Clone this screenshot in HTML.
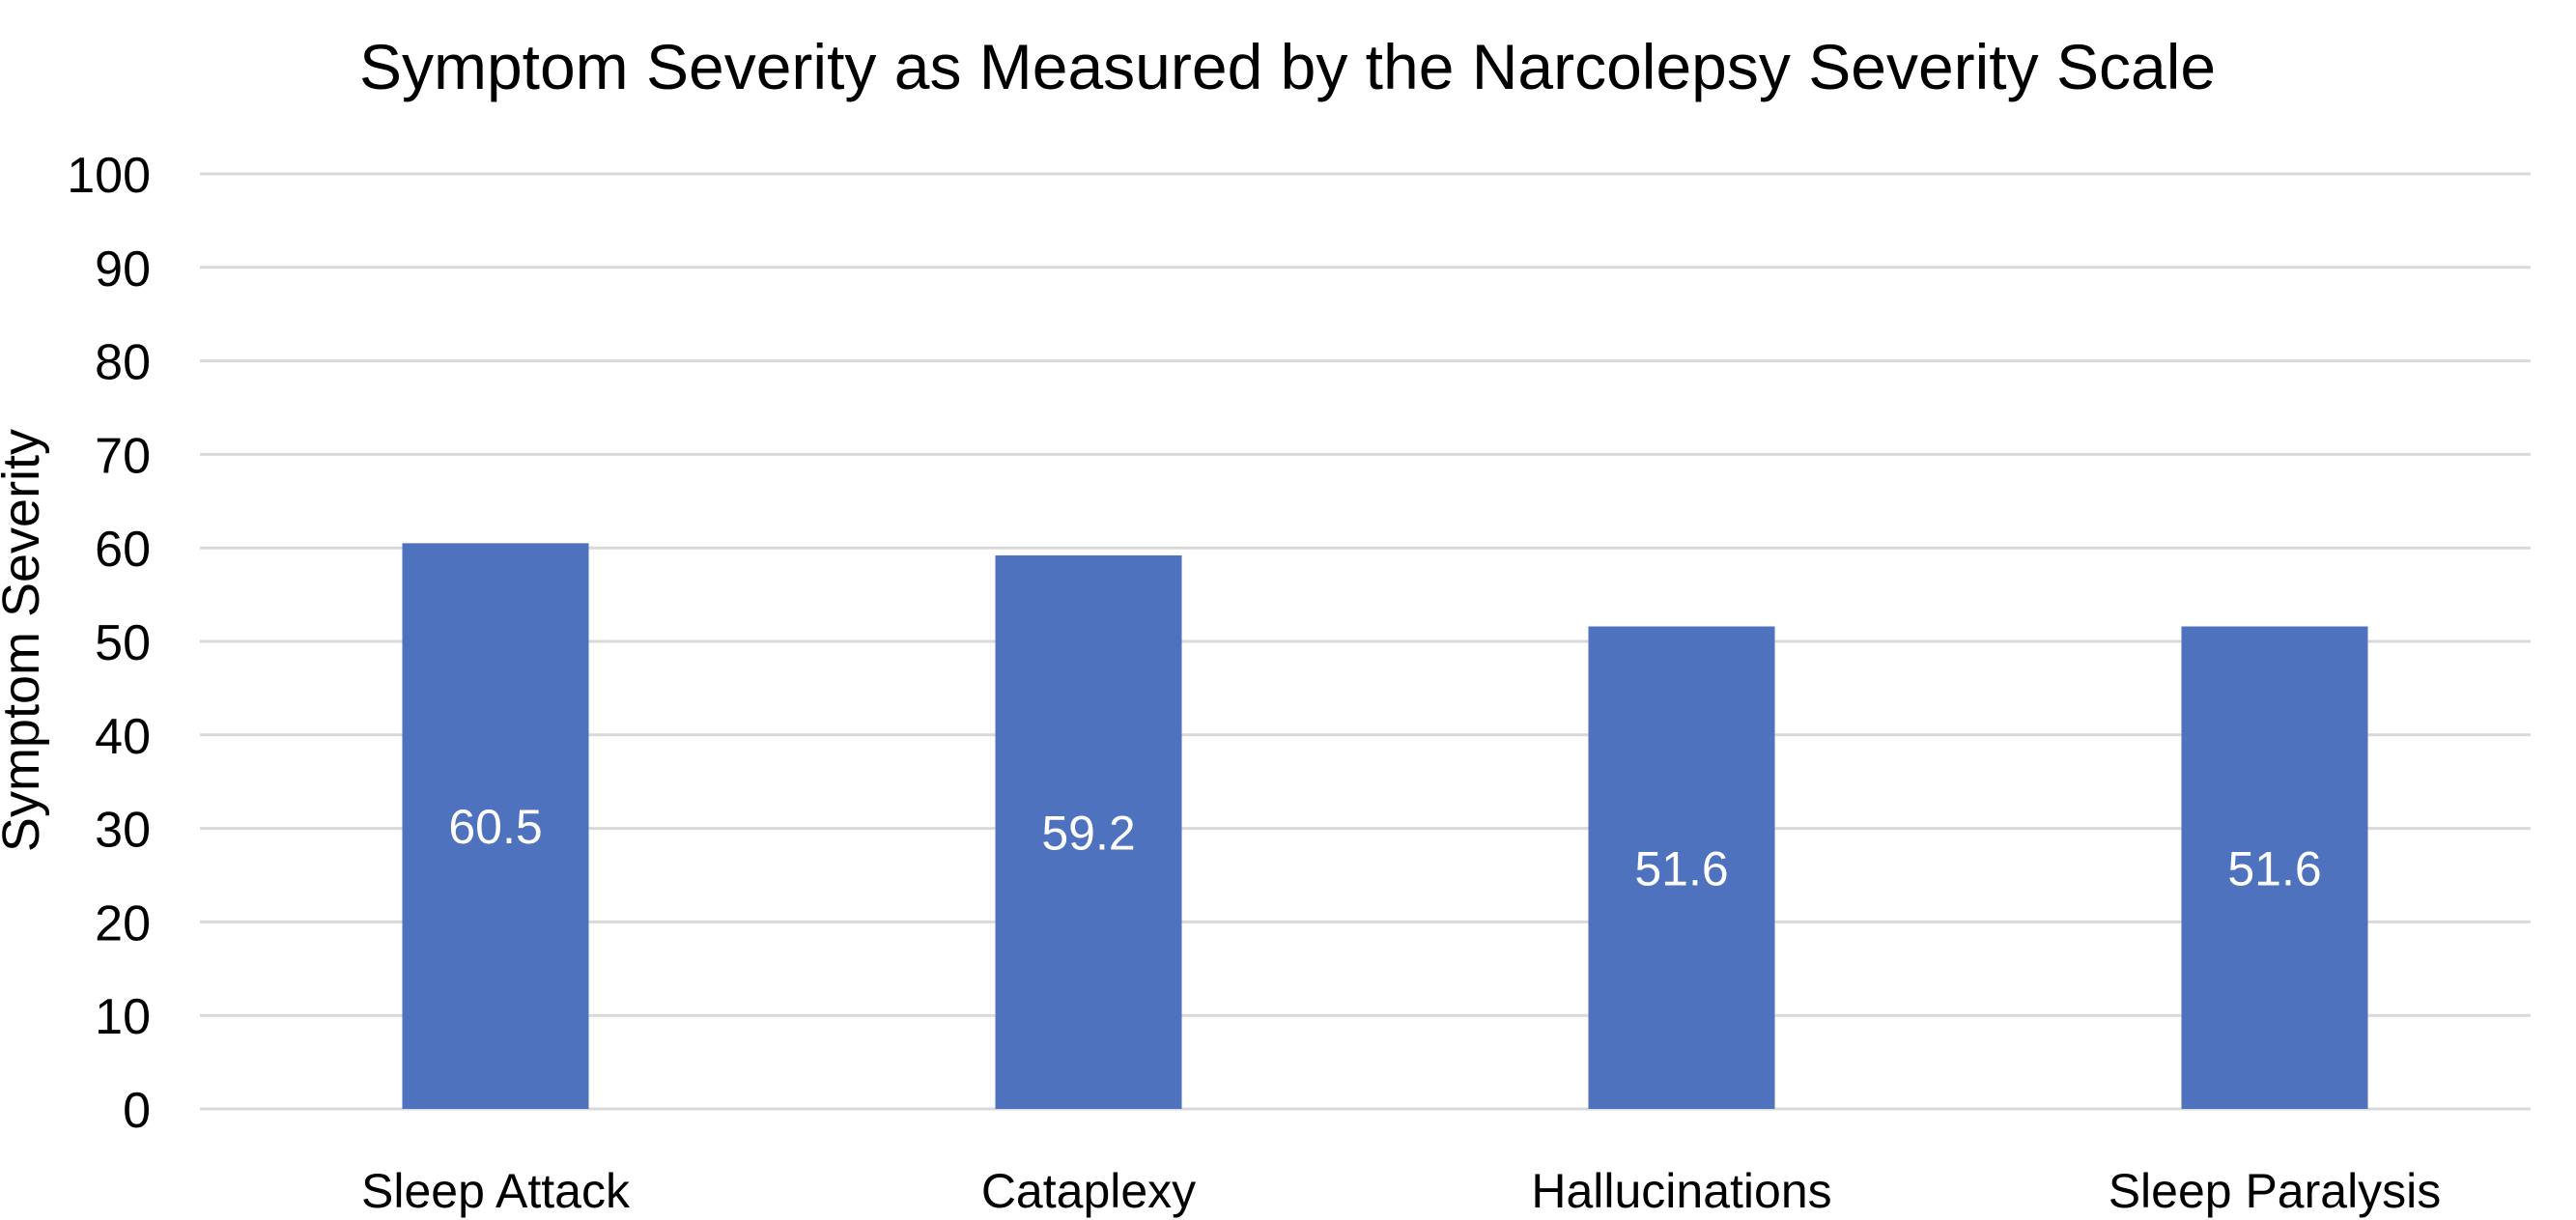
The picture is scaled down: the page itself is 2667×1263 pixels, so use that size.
<!DOCTYPE html>
<html><head><meta charset="utf-8"><style>
html,body{margin:0;padding:0;background:#fff;}
svg{display:block;font-family:"Liberation Sans",sans-serif;}
</style></head><body>
<svg id="chart" width="2667" height="1263" viewBox="0 0 2667 1263" xmlns="http://www.w3.org/2000/svg">
<text x="1333" y="92" text-anchor="middle" font-size="66" fill="#000">Symptom Severity as Measured by the Narcolepsy Severity Scale</text>
<text transform="translate(40,663) rotate(-90)" text-anchor="middle" font-size="54" fill="#000">Symptom Severity</text>
<g id="grid"></g><g id="bars"></g><g id="labels"></g>
</svg>
<script>
const categories = ["Sleep Attack","Cataplexy","Hallucinations","Sleep Paralysis"];
const values = [60.5,59.2,51.6,51.6];
const valueLabels = ["60.5","59.2","51.6","51.6"];
const ticks = [0,10,20,30,40,50,60,70,80,90,100];

const NS="http://www.w3.org/2000/svg";
const y0=1148, y100=180, gridL=207, gridR=2620, c0=513, step=614, bw=193;
const yS=v=>y0-(v/100)*(y0-y100);
const xC=i=>c0+i*step;
function mk(t,a,p){const e=document.createElementNS(NS,t);for(const k in a)e.setAttribute(k,a[k]);p.appendChild(e);return e;}
const g=document.getElementById('grid'),b=document.getElementById('bars'),l=document.getElementById('labels');
ticks.forEach(t=>{
  const ln=mk('line',{x1:gridL,x2:gridR,y1:yS(t),y2:yS(t),stroke:'#d9d9d9','stroke-width':3},g);
  
  
  const tx=mk('text',{x:156,y:yS(t)+19,'text-anchor':'end','font-size':52,fill:'#000'},l);
  tx.textContent=t;
  
  
});
categories.forEach((c,i)=>{
  const r=mk('rect',{x:xC(i)-bw/2,y:yS(values[i]),width:bw,height:y0-yS(values[i]),fill:'#4f72be'},b);
  
  
  const v=mk('text',{x:xC(i),y:(yS(values[i])+y0)/2+18,'text-anchor':'middle','font-size':50,fill:'#fff'},l);
  v.textContent=valueLabels[i];
  
  
  const cx=mk('text',{x:xC(i),y:1250,'text-anchor':'middle','font-size':50,fill:'#000'},l);
  cx.textContent=c;
  
  
});
</script>
</body></html>
